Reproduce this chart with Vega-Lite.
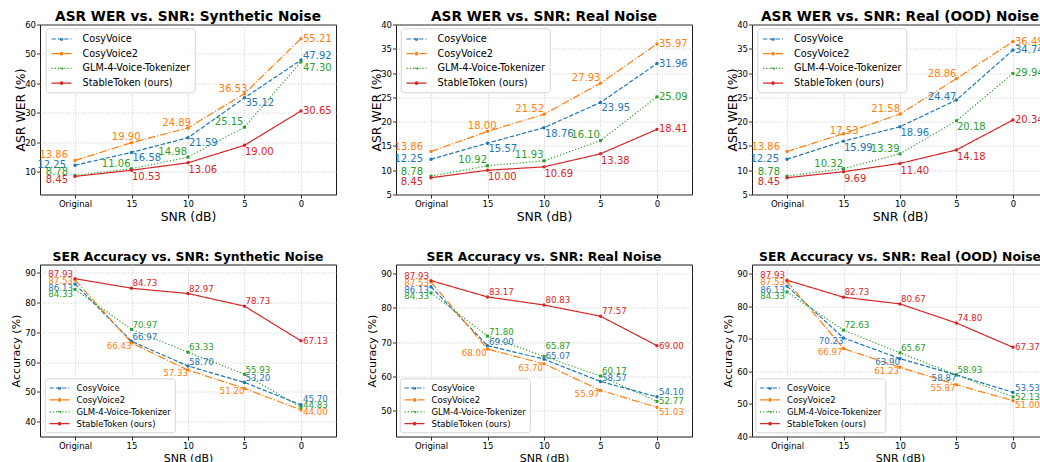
{
  "$schema": "https://vega.github.io/schema/vega-lite/v6.json",
  "background": "white",
  "padding": {"left": 10, "top": 9.5, "right": -2, "bottom": 0},
  "config": {
    "font": "DejaVu Sans",
    "view": {"stroke": "#1a1a1a", "strokeWidth": 1},
    "axis": {"domain": false, "grid": true, "gridColor": "#c4c4c4", "gridDash": [1, 1.5], "gridWidth": 0.8, "tickColor": "#000", "tickSize": 3.5, "tickWidth": 0.8, "labelColor": "#000", "labelFont": "DejaVu Sans", "labelFontSize": 8.5, "titleColor": "#000", "titleFont": "DejaVu Sans", "titleFontWeight": "normal"},
    "axisX": {"labelAngle": 0, "labelPadding": 1.5, "titlePadding": 2},
    "axisY": {"labelPadding": 1},
    "legend": {"fillColor": "rgba(255,255,255,0.85)", "strokeColor": "#cccccc", "strokeWidth": 0.8, "cornerRadius": 3, "labelColor": "#000", "labelFont": "DejaVu Sans", "symbolType": "M-1,0H3M1.25,0A0.25,0.25,0,1,1,0.75,0A0.25,0.25,0,1,1,1.25,0", "symbolStrokeWidth": 1.2, "symbolSize": 100, "labelLimit": 300},
    "title": {"font": "DejaVu Sans", "fontWeight": "bold", "color": "#000", "anchor": "middle", "baseline": "alphabetic"}
  },
  "datasets": {
    "d": [
      {"p":1,"s":"CosyVoice","x":"Original","v":12.25},{"p":1,"s":"CosyVoice","x":"15","v":16.58},{"p":1,"s":"CosyVoice","x":"10","v":21.59},{"p":1,"s":"CosyVoice","x":"5","v":35.12},{"p":1,"s":"CosyVoice","x":"0","v":47.92},
      {"p":1,"s":"CosyVoice2","x":"Original","v":13.86},{"p":1,"s":"CosyVoice2","x":"15","v":19.90},{"p":1,"s":"CosyVoice2","x":"10","v":24.89},{"p":1,"s":"CosyVoice2","x":"5","v":36.53},{"p":1,"s":"CosyVoice2","x":"0","v":55.21},
      {"p":1,"s":"GLM-4-Voice-Tokenizer","x":"Original","v":8.78},{"p":1,"s":"GLM-4-Voice-Tokenizer","x":"15","v":11.06},{"p":1,"s":"GLM-4-Voice-Tokenizer","x":"10","v":14.98},{"p":1,"s":"GLM-4-Voice-Tokenizer","x":"5","v":25.15},{"p":1,"s":"GLM-4-Voice-Tokenizer","x":"0","v":47.30},
      {"p":1,"s":"StableToken (ours)","x":"Original","v":8.45},{"p":1,"s":"StableToken (ours)","x":"15","v":10.53},{"p":1,"s":"StableToken (ours)","x":"10","v":13.06},{"p":1,"s":"StableToken (ours)","x":"5","v":19.00},{"p":1,"s":"StableToken (ours)","x":"0","v":30.65},
      {"p":2,"s":"CosyVoice","x":"Original","v":12.25},{"p":2,"s":"CosyVoice","x":"15","v":15.57},{"p":2,"s":"CosyVoice","x":"10","v":18.76},{"p":2,"s":"CosyVoice","x":"5","v":23.95},{"p":2,"s":"CosyVoice","x":"0","v":31.96},
      {"p":2,"s":"CosyVoice2","x":"Original","v":13.86},{"p":2,"s":"CosyVoice2","x":"15","v":18.00},{"p":2,"s":"CosyVoice2","x":"10","v":21.52},{"p":2,"s":"CosyVoice2","x":"5","v":27.93},{"p":2,"s":"CosyVoice2","x":"0","v":35.97},
      {"p":2,"s":"GLM-4-Voice-Tokenizer","x":"Original","v":8.78},{"p":2,"s":"GLM-4-Voice-Tokenizer","x":"15","v":10.92},{"p":2,"s":"GLM-4-Voice-Tokenizer","x":"10","v":11.93},{"p":2,"s":"GLM-4-Voice-Tokenizer","x":"5","v":16.10},{"p":2,"s":"GLM-4-Voice-Tokenizer","x":"0","v":25.09},
      {"p":2,"s":"StableToken (ours)","x":"Original","v":8.45},{"p":2,"s":"StableToken (ours)","x":"15","v":10.00},{"p":2,"s":"StableToken (ours)","x":"10","v":10.69},{"p":2,"s":"StableToken (ours)","x":"5","v":13.38},{"p":2,"s":"StableToken (ours)","x":"0","v":18.41},
      {"p":3,"s":"CosyVoice","x":"Original","v":12.25},{"p":3,"s":"CosyVoice","x":"15","v":15.99},{"p":3,"s":"CosyVoice","x":"10","v":18.96},{"p":3,"s":"CosyVoice","x":"5","v":24.47},{"p":3,"s":"CosyVoice","x":"0","v":34.74},
      {"p":3,"s":"CosyVoice2","x":"Original","v":13.86},{"p":3,"s":"CosyVoice2","x":"15","v":17.53},{"p":3,"s":"CosyVoice2","x":"10","v":21.58},{"p":3,"s":"CosyVoice2","x":"5","v":28.86},{"p":3,"s":"CosyVoice2","x":"0","v":36.49},
      {"p":3,"s":"GLM-4-Voice-Tokenizer","x":"Original","v":8.78},{"p":3,"s":"GLM-4-Voice-Tokenizer","x":"15","v":10.32},{"p":3,"s":"GLM-4-Voice-Tokenizer","x":"10","v":13.39},{"p":3,"s":"GLM-4-Voice-Tokenizer","x":"5","v":20.18},{"p":3,"s":"GLM-4-Voice-Tokenizer","x":"0","v":29.94},
      {"p":3,"s":"StableToken (ours)","x":"Original","v":8.45},{"p":3,"s":"StableToken (ours)","x":"15","v":9.69},{"p":3,"s":"StableToken (ours)","x":"10","v":11.40},{"p":3,"s":"StableToken (ours)","x":"5","v":14.18},{"p":3,"s":"StableToken (ours)","x":"0","v":20.34},
      {"p":4,"s":"CosyVoice","x":"Original","v":86.13},{"p":4,"s":"CosyVoice","x":"15","v":66.97},{"p":4,"s":"CosyVoice","x":"10","v":58.70},{"p":4,"s":"CosyVoice","x":"5","v":53.20},{"p":4,"s":"CosyVoice","x":"0","v":45.70},
      {"p":4,"s":"CosyVoice2","x":"Original","v":87.53},{"p":4,"s":"CosyVoice2","x":"15","v":66.43},{"p":4,"s":"CosyVoice2","x":"10","v":57.33},{"p":4,"s":"CosyVoice2","x":"5","v":51.20},{"p":4,"s":"CosyVoice2","x":"0","v":44.00},
      {"p":4,"s":"GLM-4-Voice-Tokenizer","x":"Original","v":84.33},{"p":4,"s":"GLM-4-Voice-Tokenizer","x":"15","v":70.97},{"p":4,"s":"GLM-4-Voice-Tokenizer","x":"10","v":63.33},{"p":4,"s":"GLM-4-Voice-Tokenizer","x":"5","v":55.93},{"p":4,"s":"GLM-4-Voice-Tokenizer","x":"0","v":44.83},
      {"p":4,"s":"StableToken (ours)","x":"Original","v":87.93},{"p":4,"s":"StableToken (ours)","x":"15","v":84.73},{"p":4,"s":"StableToken (ours)","x":"10","v":82.97},{"p":4,"s":"StableToken (ours)","x":"5","v":78.73},{"p":4,"s":"StableToken (ours)","x":"0","v":67.13},
      {"p":5,"s":"CosyVoice","x":"Original","v":86.13},{"p":5,"s":"CosyVoice","x":"15","v":69.00},{"p":5,"s":"CosyVoice","x":"10","v":65.07},{"p":5,"s":"CosyVoice","x":"5","v":58.57},{"p":5,"s":"CosyVoice","x":"0","v":54.10},
      {"p":5,"s":"CosyVoice2","x":"Original","v":87.53},{"p":5,"s":"CosyVoice2","x":"15","v":68.00},{"p":5,"s":"CosyVoice2","x":"10","v":63.70},{"p":5,"s":"CosyVoice2","x":"5","v":55.97},{"p":5,"s":"CosyVoice2","x":"0","v":51.03},
      {"p":5,"s":"GLM-4-Voice-Tokenizer","x":"Original","v":84.33},{"p":5,"s":"GLM-4-Voice-Tokenizer","x":"15","v":71.80},{"p":5,"s":"GLM-4-Voice-Tokenizer","x":"10","v":65.87},{"p":5,"s":"GLM-4-Voice-Tokenizer","x":"5","v":60.17},{"p":5,"s":"GLM-4-Voice-Tokenizer","x":"0","v":52.77},
      {"p":5,"s":"StableToken (ours)","x":"Original","v":87.93},{"p":5,"s":"StableToken (ours)","x":"15","v":83.17},{"p":5,"s":"StableToken (ours)","x":"10","v":80.83},{"p":5,"s":"StableToken (ours)","x":"5","v":77.57},{"p":5,"s":"StableToken (ours)","x":"0","v":69.00},
      {"p":6,"s":"CosyVoice","x":"Original","v":86.13},{"p":6,"s":"CosyVoice","x":"15","v":70.23},{"p":6,"s":"CosyVoice","x":"10","v":63.90},{"p":6,"s":"CosyVoice","x":"5","v":58.87},{"p":6,"s":"CosyVoice","x":"0","v":53.53},
      {"p":6,"s":"CosyVoice2","x":"Original","v":87.53},{"p":6,"s":"CosyVoice2","x":"15","v":66.97},{"p":6,"s":"CosyVoice2","x":"10","v":61.23},{"p":6,"s":"CosyVoice2","x":"5","v":55.87},{"p":6,"s":"CosyVoice2","x":"0","v":51.00},
      {"p":6,"s":"GLM-4-Voice-Tokenizer","x":"Original","v":84.33},{"p":6,"s":"GLM-4-Voice-Tokenizer","x":"15","v":72.63},{"p":6,"s":"GLM-4-Voice-Tokenizer","x":"10","v":65.67},{"p":6,"s":"GLM-4-Voice-Tokenizer","x":"5","v":58.93},{"p":6,"s":"GLM-4-Voice-Tokenizer","x":"0","v":52.13},
      {"p":6,"s":"StableToken (ours)","x":"Original","v":87.93},{"p":6,"s":"StableToken (ours)","x":"15","v":82.73},{"p":6,"s":"StableToken (ours)","x":"10","v":80.67},{"p":6,"s":"StableToken (ours)","x":"5","v":74.80},{"p":6,"s":"StableToken (ours)","x":"0","v":67.37}
    ]
  },
  "columns": 3,
  "spacing": {"row": 70, "column": 60},
  "bounds": "flush",
  "resolve": {"scale": {"x": "independent", "y": "independent", "color": "independent", "strokeDash": "independent"}},
  "concat": [
    {
      "width": 296, "height": 170,
      "title": {"text": "ASR WER vs. SNR: Synthetic Noise", "fontSize": 13.7, "offset": -3.5},
      "data": {"name": "d"},
      "transform": [{"filter": "datum.p == 1"}],
      "encoding": {
        "x": {"field": "x", "type": "ordinal", "sort": ["Original","15","10","5","0"], "scale": {"type": "point", "padding": 0.62}, "axis": {"title": "SNR (dB)", "titleFontSize": 12.4}},
        "y": {"field": "v", "type": "quantitative", "scale": {"domain": [2.3, 60], "nice": false, "zero": false}, "axis": {"title": "ASR WER (%)", "values": [10,20,30,40,50,60], "titleFontSize": 12.4, "titlePadding": -2.5}}
      },
      "layer": [
        {"mark": {"type": "line", "strokeWidth": 1.2}, "encoding": {
          "color": {"field": "s", "type": "nominal", "title": null, "scale": {"domain": ["CosyVoice","CosyVoice2","GLM-4-Voice-Tokenizer","StableToken (ours)"], "range": ["#1f77b4","#ff7f0e","#2ca02c","#d62728"]}, "legend": {"orient": "none", "legendX": 6, "legendY": 4, "labelFontSize": 9.7, "rowPadding": 3.7, "padding": 4.5, "labelOffset": 20}},
          "strokeDash": {"field": "s", "type": "nominal", "title": null, "scale": {"domain": ["CosyVoice","CosyVoice2","GLM-4-Voice-Tokenizer","StableToken (ours)"], "range": [[4.4,1.9],[7.7,1.9,1.2,1.9],[1.2,2],[1,0]]}, "legend": {"orient": "none", "legendX": 6, "legendY": 4, "labelFontSize": 9.7, "rowPadding": 3.7, "padding": 4.5, "labelOffset": 20}}}},
        {"transform": [{"filter": "datum.s=='CosyVoice'"}], "mark": {"type": "point", "filled": true, "size": 12, "opacity": 1, "color": "#1f77b4"}},
        {"transform": [{"filter": "datum.s=='CosyVoice2'"}], "mark": {"type": "point", "filled": true, "size": 12, "opacity": 1, "color": "#ff7f0e"}},
        {"transform": [{"filter": "datum.s=='GLM-4-Voice-Tokenizer'"}], "mark": {"type": "point", "filled": true, "size": 9, "opacity": 1, "shape": "square", "color": "#2ca02c"}},
        {"transform": [{"filter": "datum.s=='StableToken (ours)'"}], "mark": {"type": "point", "filled": true, "size": 12, "opacity": 1, "color": "#d62728"}},
        {"transform": [{"filter": "datum.s=='CosyVoice'&&datum.x=='Original'"}], "mark": {"type": "text", "align": "right", "baseline": "middle", "dx": -9, "dy": 0, "fontSize": 10, "color": "#1f77b4"}, "encoding": {"text": {"field": "v", "type": "quantitative", "format": ".2f"}}},
        {"transform": [{"filter": "datum.s=='CosyVoice'&&indexof(['15','10','5'],datum.x)>=0"}], "mark": {"type": "text", "align": "left", "baseline": "middle", "dx": 1, "dy": 5.5, "fontSize": 10, "color": "#1f77b4"}, "encoding": {"text": {"field": "v", "type": "quantitative", "format": ".2f"}}},
        {"transform": [{"filter": "datum.s=='CosyVoice'&&datum.x=='0'"}], "mark": {"type": "text", "align": "left", "baseline": "middle", "dx": 2, "dy": -4, "fontSize": 10, "color": "#1f77b4"}, "encoding": {"text": {"field": "v", "type": "quantitative", "format": ".2f"}}},
        {"transform": [{"filter": "datum.s=='CosyVoice2'&&datum.x=='Original'"}], "mark": {"type": "text", "align": "right", "baseline": "middle", "dx": -7, "dy": -5, "fontSize": 10, "color": "#ff7f0e"}, "encoding": {"text": {"field": "v", "type": "quantitative", "format": ".2f"}}},
        {"transform": [{"filter": "datum.s=='CosyVoice2'&&datum.x=='15'"}], "mark": {"type": "text", "align": "right", "baseline": "middle", "dx": 9, "dy": -6, "fontSize": 10, "color": "#ff7f0e"}, "encoding": {"text": {"field": "v", "type": "quantitative", "format": ".2f"}}},
        {"transform": [{"filter": "datum.s=='CosyVoice2'&&indexof(['10','5'],datum.x)>=0"}], "mark": {"type": "text", "align": "right", "baseline": "middle", "dx": 3, "dy": -5, "fontSize": 10, "color": "#ff7f0e"}, "encoding": {"text": {"field": "v", "type": "quantitative", "format": ".2f"}}},
        {"transform": [{"filter": "datum.s=='CosyVoice2'&&datum.x=='0'"}], "mark": {"type": "text", "align": "left", "baseline": "middle", "dx": 2, "dy": 0, "fontSize": 10, "color": "#ff7f0e"}, "encoding": {"text": {"field": "v", "type": "quantitative", "format": ".2f"}}},
        {"transform": [{"filter": "datum.s=='GLM-4-Voice-Tokenizer'&&datum.x=='Original'"}], "mark": {"type": "text", "align": "right", "baseline": "middle", "dx": -7, "dy": -3.5, "fontSize": 10, "color": "#2ca02c"}, "encoding": {"text": {"field": "v", "type": "quantitative", "format": ".2f"}}},
        {"transform": [{"filter": "datum.s=='GLM-4-Voice-Tokenizer'&&indexof(['15','10','5'],datum.x)>=0"}], "mark": {"type": "text", "align": "right", "baseline": "middle", "dx": -1, "dy": -5, "fontSize": 10, "color": "#2ca02c"}, "encoding": {"text": {"field": "v", "type": "quantitative", "format": ".2f"}}},
        {"transform": [{"filter": "datum.s=='GLM-4-Voice-Tokenizer'&&datum.x=='0'"}], "mark": {"type": "text", "align": "left", "baseline": "middle", "dx": 2, "dy": 6, "fontSize": 10, "color": "#2ca02c"}, "encoding": {"text": {"field": "v", "type": "quantitative", "format": ".2f"}}},
        {"transform": [{"filter": "datum.s=='StableToken (ours)'&&datum.x=='Original'"}], "mark": {"type": "text", "align": "right", "baseline": "middle", "dx": -7, "dy": 3.5, "fontSize": 10, "color": "#d62728"}, "encoding": {"text": {"field": "v", "type": "quantitative", "format": ".2f"}}},
        {"transform": [{"filter": "datum.s=='StableToken (ours)'&&indexof(['15','10','5'],datum.x)>=0"}], "mark": {"type": "text", "align": "left", "baseline": "middle", "dx": 0.5, "dy": 7, "fontSize": 10, "color": "#d62728"}, "encoding": {"text": {"field": "v", "type": "quantitative", "format": ".2f"}}},
        {"transform": [{"filter": "datum.s=='StableToken (ours)'&&datum.x=='0'"}], "mark": {"type": "text", "align": "left", "baseline": "middle", "dx": 2, "dy": 0, "fontSize": 10, "color": "#d62728"}, "encoding": {"text": {"field": "v", "type": "quantitative", "format": ".2f"}}}
      ]
    },
    {
      "width": 296, "height": 170,
      "title": {"text": "ASR WER vs. SNR: Real Noise", "fontSize": 13.7, "offset": -3.5},
      "data": {"name": "d"},
      "transform": [{"filter": "datum.p == 2"}],
      "encoding": {
        "x": {"field": "x", "type": "ordinal", "sort": ["Original","15","10","5","0"], "scale": {"type": "point", "padding": 0.62}, "axis": {"title": "SNR (dB)", "titleFontSize": 12.4}},
        "y": {"field": "v", "type": "quantitative", "scale": {"domain": [5, 40], "nice": false, "zero": false}, "axis": {"title": "ASR WER (%)", "values": [5,10,15,20,25,30,35,40], "titleFontSize": 12.4, "titlePadding": -2.5}}
      },
      "layer": [
        {"mark": {"type": "line", "strokeWidth": 1.2}, "encoding": {
          "color": {"field": "s", "type": "nominal", "title": null, "scale": {"domain": ["CosyVoice","CosyVoice2","GLM-4-Voice-Tokenizer","StableToken (ours)"], "range": ["#1f77b4","#ff7f0e","#2ca02c","#d62728"]}, "legend": {"orient": "none", "legendX": 5, "legendY": 4, "labelFontSize": 9.7, "rowPadding": 3.7, "padding": 4.5, "labelOffset": 20}},
          "strokeDash": {"field": "s", "type": "nominal", "title": null, "scale": {"domain": ["CosyVoice","CosyVoice2","GLM-4-Voice-Tokenizer","StableToken (ours)"], "range": [[4.4,1.9],[7.7,1.9,1.2,1.9],[1.2,2],[1,0]]}, "legend": {"orient": "none", "legendX": 5, "legendY": 4, "labelFontSize": 9.7, "rowPadding": 3.7, "padding": 4.5, "labelOffset": 20}}}},
        {"transform": [{"filter": "datum.s=='CosyVoice'"}], "mark": {"type": "point", "filled": true, "size": 12, "opacity": 1, "color": "#1f77b4"}},
        {"transform": [{"filter": "datum.s=='CosyVoice2'"}], "mark": {"type": "point", "filled": true, "size": 12, "opacity": 1, "color": "#ff7f0e"}},
        {"transform": [{"filter": "datum.s=='GLM-4-Voice-Tokenizer'"}], "mark": {"type": "point", "filled": true, "size": 9, "opacity": 1, "shape": "square", "color": "#2ca02c"}},
        {"transform": [{"filter": "datum.s=='StableToken (ours)'"}], "mark": {"type": "point", "filled": true, "size": 12, "opacity": 1, "color": "#d62728"}},
        {"transform": [{"filter": "datum.s=='CosyVoice'&&datum.x=='Original'"}], "mark": {"type": "text", "align": "right", "baseline": "middle", "dx": -8, "dy": 0, "fontSize": 10, "color": "#1f77b4"}, "encoding": {"text": {"field": "v", "type": "quantitative", "format": ".2f"}}},
        {"transform": [{"filter": "datum.s=='CosyVoice'&&indexof(['15','10','5'],datum.x)>=0"}], "mark": {"type": "text", "align": "left", "baseline": "middle", "dx": 1, "dy": 6, "fontSize": 10, "color": "#1f77b4"}, "encoding": {"text": {"field": "v", "type": "quantitative", "format": ".2f"}}},
        {"transform": [{"filter": "datum.s=='CosyVoice'&&datum.x=='0'"}], "mark": {"type": "text", "align": "left", "baseline": "middle", "dx": 2, "dy": 0, "fontSize": 10, "color": "#1f77b4"}, "encoding": {"text": {"field": "v", "type": "quantitative", "format": ".2f"}}},
        {"transform": [{"filter": "datum.s=='CosyVoice2'&&datum.x=='Original'"}], "mark": {"type": "text", "align": "right", "baseline": "middle", "dx": -8, "dy": -4.5, "fontSize": 10, "color": "#ff7f0e"}, "encoding": {"text": {"field": "v", "type": "quantitative", "format": ".2f"}}},
        {"transform": [{"filter": "datum.s=='CosyVoice2'&&datum.x=='15'"}], "mark": {"type": "text", "align": "right", "baseline": "middle", "dx": 9, "dy": -5, "fontSize": 10, "color": "#ff7f0e"}, "encoding": {"text": {"field": "v", "type": "quantitative", "format": ".2f"}}},
        {"transform": [{"filter": "datum.s=='CosyVoice2'&&indexof(['10','5'],datum.x)>=0"}], "mark": {"type": "text", "align": "right", "baseline": "middle", "dx": 0, "dy": -5, "fontSize": 10, "color": "#ff7f0e"}, "encoding": {"text": {"field": "v", "type": "quantitative", "format": ".2f"}}},
        {"transform": [{"filter": "datum.s=='CosyVoice2'&&datum.x=='0'"}], "mark": {"type": "text", "align": "left", "baseline": "middle", "dx": 2, "dy": 0, "fontSize": 10, "color": "#ff7f0e"}, "encoding": {"text": {"field": "v", "type": "quantitative", "format": ".2f"}}},
        {"transform": [{"filter": "datum.s=='GLM-4-Voice-Tokenizer'&&datum.x=='Original'"}], "mark": {"type": "text", "align": "right", "baseline": "middle", "dx": -8, "dy": -4, "fontSize": 10, "color": "#2ca02c"}, "encoding": {"text": {"field": "v", "type": "quantitative", "format": ".2f"}}},
        {"transform": [{"filter": "datum.s=='GLM-4-Voice-Tokenizer'&&indexof(['15','10','5'],datum.x)>=0"}], "mark": {"type": "text", "align": "right", "baseline": "middle", "dx": -0.5, "dy": -5.5, "fontSize": 10, "color": "#2ca02c"}, "encoding": {"text": {"field": "v", "type": "quantitative", "format": ".2f"}}},
        {"transform": [{"filter": "datum.s=='GLM-4-Voice-Tokenizer'&&datum.x=='0'"}], "mark": {"type": "text", "align": "left", "baseline": "middle", "dx": 2, "dy": 0, "fontSize": 10, "color": "#2ca02c"}, "encoding": {"text": {"field": "v", "type": "quantitative", "format": ".2f"}}},
        {"transform": [{"filter": "datum.s=='StableToken (ours)'&&datum.x=='Original'"}], "mark": {"type": "text", "align": "right", "baseline": "middle", "dx": -8, "dy": 4.4, "fontSize": 10, "color": "#d62728"}, "encoding": {"text": {"field": "v", "type": "quantitative", "format": ".2f"}}},
        {"transform": [{"filter": "datum.s=='StableToken (ours)'&&indexof(['15','10','5'],datum.x)>=0"}], "mark": {"type": "text", "align": "left", "baseline": "middle", "dx": 0.5, "dy": 7, "fontSize": 10, "color": "#d62728"}, "encoding": {"text": {"field": "v", "type": "quantitative", "format": ".2f"}}},
        {"transform": [{"filter": "datum.s=='StableToken (ours)'&&datum.x=='0'"}], "mark": {"type": "text", "align": "left", "baseline": "middle", "dx": 2, "dy": 0, "fontSize": 10, "color": "#d62728"}, "encoding": {"text": {"field": "v", "type": "quantitative", "format": ".2f"}}}
      ]
    },
    {
      "width": 296, "height": 170,
      "title": {"text": "ASR WER vs. SNR: Real (OOD) Noise", "fontSize": 13.7, "offset": -3.5},
      "data": {"name": "d"},
      "transform": [{"filter": "datum.p == 3"}],
      "encoding": {
        "x": {"field": "x", "type": "ordinal", "sort": ["Original","15","10","5","0"], "scale": {"type": "point", "padding": 0.62}, "axis": {"title": "SNR (dB)", "titleFontSize": 12.4}},
        "y": {"field": "v", "type": "quantitative", "scale": {"domain": [5, 40], "nice": false, "zero": false}, "axis": {"title": "ASR WER (%)", "values": [5,10,15,20,25,30,35,40], "titleFontSize": 12.4, "titlePadding": -2.5}}
      },
      "layer": [
        {"mark": {"type": "line", "strokeWidth": 1.2}, "encoding": {
          "color": {"field": "s", "type": "nominal", "title": null, "scale": {"domain": ["CosyVoice","CosyVoice2","GLM-4-Voice-Tokenizer","StableToken (ours)"], "range": ["#1f77b4","#ff7f0e","#2ca02c","#d62728"]}, "legend": {"orient": "none", "legendX": 5.5, "legendY": 4, "labelFontSize": 9.7, "rowPadding": 3.7, "padding": 4.5, "labelOffset": 20}},
          "strokeDash": {"field": "s", "type": "nominal", "title": null, "scale": {"domain": ["CosyVoice","CosyVoice2","GLM-4-Voice-Tokenizer","StableToken (ours)"], "range": [[4.4,1.9],[7.7,1.9,1.2,1.9],[1.2,2],[1,0]]}, "legend": {"orient": "none", "legendX": 5.5, "legendY": 4, "labelFontSize": 9.7, "rowPadding": 3.7, "padding": 4.5, "labelOffset": 20}}}},
        {"transform": [{"filter": "datum.s=='CosyVoice'"}], "mark": {"type": "point", "filled": true, "size": 12, "opacity": 1, "color": "#1f77b4"}},
        {"transform": [{"filter": "datum.s=='CosyVoice2'"}], "mark": {"type": "point", "filled": true, "size": 12, "opacity": 1, "color": "#ff7f0e"}},
        {"transform": [{"filter": "datum.s=='GLM-4-Voice-Tokenizer'"}], "mark": {"type": "point", "filled": true, "size": 9, "opacity": 1, "shape": "square", "color": "#2ca02c"}},
        {"transform": [{"filter": "datum.s=='StableToken (ours)'"}], "mark": {"type": "point", "filled": true, "size": 12, "opacity": 1, "color": "#d62728"}},
        {"transform": [{"filter": "datum.s=='CosyVoice'&&datum.x=='Original'"}], "mark": {"type": "text", "align": "right", "baseline": "middle", "dx": -8, "dy": 0, "fontSize": 10, "color": "#1f77b4"}, "encoding": {"text": {"field": "v", "type": "quantitative", "format": ".2f"}}},
        {"transform": [{"filter": "datum.s=='CosyVoice'&&indexof(['15','10'],datum.x)>=0"}], "mark": {"type": "text", "align": "left", "baseline": "middle", "dx": 0.5, "dy": 6.5, "fontSize": 10, "color": "#1f77b4"}, "encoding": {"text": {"field": "v", "type": "quantitative", "format": ".2f"}}},
        {"transform": [{"filter": "datum.s=='CosyVoice'&&datum.x=='5'"}], "mark": {"type": "text", "align": "right", "baseline": "middle", "dx": 0, "dy": -3, "fontSize": 10, "color": "#1f77b4"}, "encoding": {"text": {"field": "v", "type": "quantitative", "format": ".2f"}}},
        {"transform": [{"filter": "datum.s=='CosyVoice'&&datum.x=='0'"}], "mark": {"type": "text", "align": "left", "baseline": "middle", "dx": 2, "dy": 0, "fontSize": 10, "color": "#1f77b4"}, "encoding": {"text": {"field": "v", "type": "quantitative", "format": ".2f"}}},
        {"transform": [{"filter": "datum.s=='CosyVoice2'&&datum.x=='Original'"}], "mark": {"type": "text", "align": "right", "baseline": "middle", "dx": -7, "dy": -4.5, "fontSize": 10, "color": "#ff7f0e"}, "encoding": {"text": {"field": "v", "type": "quantitative", "format": ".2f"}}},
        {"transform": [{"filter": "datum.s=='CosyVoice2'&&datum.x=='15'"}], "mark": {"type": "text", "align": "right", "baseline": "middle", "dx": 15, "dy": -3, "fontSize": 10, "color": "#ff7f0e"}, "encoding": {"text": {"field": "v", "type": "quantitative", "format": ".2f"}}},
        {"transform": [{"filter": "datum.s=='CosyVoice2'&&indexof(['10','5'],datum.x)>=0"}], "mark": {"type": "text", "align": "right", "baseline": "middle", "dx": 0, "dy": -5, "fontSize": 10, "color": "#ff7f0e"}, "encoding": {"text": {"field": "v", "type": "quantitative", "format": ".2f"}}},
        {"transform": [{"filter": "datum.s=='CosyVoice2'&&datum.x=='0'"}], "mark": {"type": "text", "align": "left", "baseline": "middle", "dx": 2, "dy": 0, "fontSize": 10, "color": "#ff7f0e"}, "encoding": {"text": {"field": "v", "type": "quantitative", "format": ".2f"}}},
        {"transform": [{"filter": "datum.s=='GLM-4-Voice-Tokenizer'&&datum.x=='Original'"}], "mark": {"type": "text", "align": "right", "baseline": "middle", "dx": -7, "dy": -4, "fontSize": 10, "color": "#2ca02c"}, "encoding": {"text": {"field": "v", "type": "quantitative", "format": ".2f"}}},
        {"transform": [{"filter": "datum.s=='GLM-4-Voice-Tokenizer'&&indexof(['15','10'],datum.x)>=0"}], "mark": {"type": "text", "align": "right", "baseline": "middle", "dx": -0.5, "dy": -5, "fontSize": 10, "color": "#2ca02c"}, "encoding": {"text": {"field": "v", "type": "quantitative", "format": ".2f"}}},
        {"transform": [{"filter": "datum.s=='GLM-4-Voice-Tokenizer'&&datum.x=='5'"}], "mark": {"type": "text", "align": "left", "baseline": "middle", "dx": 0.5, "dy": 6, "fontSize": 10, "color": "#2ca02c"}, "encoding": {"text": {"field": "v", "type": "quantitative", "format": ".2f"}}},
        {"transform": [{"filter": "datum.s=='GLM-4-Voice-Tokenizer'&&datum.x=='0'"}], "mark": {"type": "text", "align": "left", "baseline": "middle", "dx": 2, "dy": 0, "fontSize": 10, "color": "#2ca02c"}, "encoding": {"text": {"field": "v", "type": "quantitative", "format": ".2f"}}},
        {"transform": [{"filter": "datum.s=='StableToken (ours)'&&datum.x=='Original'"}], "mark": {"type": "text", "align": "right", "baseline": "middle", "dx": -7, "dy": 4.4, "fontSize": 10, "color": "#d62728"}, "encoding": {"text": {"field": "v", "type": "quantitative", "format": ".2f"}}},
        {"transform": [{"filter": "datum.s=='StableToken (ours)'&&indexof(['15','10','5'],datum.x)>=0"}], "mark": {"type": "text", "align": "left", "baseline": "middle", "dx": 0.5, "dy": 7.2, "fontSize": 10, "color": "#d62728"}, "encoding": {"text": {"field": "v", "type": "quantitative", "format": ".2f"}}},
        {"transform": [{"filter": "datum.s=='StableToken (ours)'&&datum.x=='0'"}], "mark": {"type": "text", "align": "left", "baseline": "middle", "dx": 2, "dy": 0, "fontSize": 10, "color": "#d62728"}, "encoding": {"text": {"field": "v", "type": "quantitative", "format": ".2f"}}}
      ]
    },
    {
      "width": 296, "height": 172,
      "title": {"text": "SER Accuracy vs. SNR: Synthetic Noise", "fontSize": 12.4, "offset": 1.5},
      "data": {"name": "d"},
      "transform": [{"filter": "datum.p == 4"}],
      "encoding": {
        "x": {"field": "x", "type": "ordinal", "sort": ["Original","15","10","5","0"], "scale": {"type": "point", "padding": 0.62}, "axis": {"title": "SNR (dB)", "titleFontSize": 11}},
        "y": {"field": "v", "type": "quantitative", "scale": {"domain": [35.1, 92.68], "nice": false, "zero": false}, "axis": {"title": "Accuracy (%)", "values": [40,50,60,70,80,90], "titleFontSize": 11, "titlePadding": 3}}
      },
      "layer": [
        {"mark": {"type": "line", "strokeWidth": 1.2}, "encoding": {
          "color": {"field": "s", "type": "nominal", "title": null, "scale": {"domain": ["CosyVoice","CosyVoice2","GLM-4-Voice-Tokenizer","StableToken (ours)"], "range": ["#1f77b4","#ff7f0e","#2ca02c","#d62728"]}, "legend": {"orient": "none", "legendX": 5, "legendY": 114, "labelFontSize": 8.5, "rowPadding": 0.9, "padding": 3.5, "labelOffset": 16}},
          "strokeDash": {"field": "s", "type": "nominal", "title": null, "scale": {"domain": ["CosyVoice","CosyVoice2","GLM-4-Voice-Tokenizer","StableToken (ours)"], "range": [[4.4,1.9],[7.7,1.9,1.2,1.9],[1.2,2],[1,0]]}, "legend": {"orient": "none", "legendX": 5, "legendY": 114, "labelFontSize": 8.5, "rowPadding": 0.9, "padding": 3.5, "labelOffset": 16}}}},
        {"transform": [{"filter": "datum.s=='CosyVoice'"}], "mark": {"type": "point", "filled": true, "size": 12, "opacity": 1, "color": "#1f77b4"}},
        {"transform": [{"filter": "datum.s=='CosyVoice2'"}], "mark": {"type": "point", "filled": true, "size": 12, "opacity": 1, "color": "#ff7f0e"}},
        {"transform": [{"filter": "datum.s=='GLM-4-Voice-Tokenizer'"}], "mark": {"type": "point", "filled": true, "size": 9, "opacity": 1, "shape": "square", "color": "#2ca02c"}},
        {"transform": [{"filter": "datum.s=='StableToken (ours)'"}], "mark": {"type": "point", "filled": true, "size": 12, "opacity": 1, "color": "#d62728"}},
        {"transform": [{"filter": "datum.s=='CosyVoice'&&datum.x=='Original'"}], "mark": {"type": "text", "align": "right", "baseline": "middle", "dx": -2, "dy": 3.5, "fontSize": 8.7, "color": "#1f77b4"}, "encoding": {"text": {"field": "v", "type": "quantitative", "format": ".2f"}}},
        {"transform": [{"filter": "datum.s=='CosyVoice'&&indexof(['15','10','5'],datum.x)>=0"}], "mark": {"type": "text", "align": "left", "baseline": "middle", "dx": 1, "dy": -4, "fontSize": 8.7, "color": "#1f77b4"}, "encoding": {"text": {"field": "v", "type": "quantitative", "format": ".2f"}}},
        {"transform": [{"filter": "datum.s=='CosyVoice'&&datum.x=='0'"}], "mark": {"type": "text", "align": "left", "baseline": "middle", "dx": 2, "dy": -5.5, "fontSize": 8.7, "color": "#1f77b4"}, "encoding": {"text": {"field": "v", "type": "quantitative", "format": ".2f"}}},
        {"transform": [{"filter": "datum.s=='CosyVoice2'&&datum.x=='Original'"}], "mark": {"type": "text", "align": "right", "baseline": "middle", "dx": -2, "dy": 1, "fontSize": 8.7, "color": "#ff7f0e"}, "encoding": {"text": {"field": "v", "type": "quantitative", "format": ".2f"}}},
        {"transform": [{"filter": "datum.s=='CosyVoice2'&&indexof(['15','10','5'],datum.x)>=0"}], "mark": {"type": "text", "align": "right", "baseline": "middle", "dx": 0, "dy": 2.7, "fontSize": 8.7, "color": "#ff7f0e"}, "encoding": {"text": {"field": "v", "type": "quantitative", "format": ".2f"}}},
        {"transform": [{"filter": "datum.s=='CosyVoice2'&&datum.x=='0'"}], "mark": {"type": "text", "align": "left", "baseline": "middle", "dx": 2, "dy": 2, "fontSize": 8.7, "color": "#ff7f0e"}, "encoding": {"text": {"field": "v", "type": "quantitative", "format": ".2f"}}},
        {"transform": [{"filter": "datum.s=='GLM-4-Voice-Tokenizer'&&datum.x=='Original'"}], "mark": {"type": "text", "align": "right", "baseline": "middle", "dx": -2, "dy": 5, "fontSize": 8.7, "color": "#2ca02c"}, "encoding": {"text": {"field": "v", "type": "quantitative", "format": ".2f"}}},
        {"transform": [{"filter": "datum.s=='GLM-4-Voice-Tokenizer'&&indexof(['15','10','5'],datum.x)>=0"}], "mark": {"type": "text", "align": "left", "baseline": "middle", "dx": 1, "dy": -4.7, "fontSize": 8.7, "color": "#2ca02c"}, "encoding": {"text": {"field": "v", "type": "quantitative", "format": ".2f"}}},
        {"transform": [{"filter": "datum.s=='GLM-4-Voice-Tokenizer'&&datum.x=='0'"}], "mark": {"type": "text", "align": "left", "baseline": "middle", "dx": 2, "dy": -2, "fontSize": 8.7, "color": "#2ca02c"}, "encoding": {"text": {"field": "v", "type": "quantitative", "format": ".2f"}}},
        {"transform": [{"filter": "datum.s=='StableToken (ours)'&&datum.x=='Original'"}], "mark": {"type": "text", "align": "right", "baseline": "middle", "dx": -2, "dy": -5, "fontSize": 8.7, "color": "#d62728"}, "encoding": {"text": {"field": "v", "type": "quantitative", "format": ".2f"}}},
        {"transform": [{"filter": "datum.s=='StableToken (ours)'&&indexof(['15','10','5'],datum.x)>=0"}], "mark": {"type": "text", "align": "left", "baseline": "middle", "dx": 1, "dy": -5, "fontSize": 8.7, "color": "#d62728"}, "encoding": {"text": {"field": "v", "type": "quantitative", "format": ".2f"}}},
        {"transform": [{"filter": "datum.s=='StableToken (ours)'&&datum.x=='0'"}], "mark": {"type": "text", "align": "left", "baseline": "middle", "dx": 2, "dy": 0, "fontSize": 8.7, "color": "#d62728"}, "encoding": {"text": {"field": "v", "type": "quantitative", "format": ".2f"}}}
      ]
    },
    {
      "width": 296, "height": 172,
      "title": {"text": "SER Accuracy vs. SNR: Real Noise", "fontSize": 12.4, "offset": 1.5},
      "data": {"name": "d"},
      "transform": [{"filter": "datum.p == 5"}],
      "encoding": {
        "x": {"field": "x", "type": "ordinal", "sort": ["Original","15","10","5","0"], "scale": {"type": "point", "padding": 0.62}, "axis": {"title": "SNR (dB)", "titleFontSize": 11}},
        "y": {"field": "v", "type": "quantitative", "scale": {"domain": [42.55, 92.62], "nice": false, "zero": false}, "axis": {"title": "Accuracy (%)", "values": [50,60,70,80,90], "titleFontSize": 11, "titlePadding": 3}}
      },
      "layer": [
        {"mark": {"type": "line", "strokeWidth": 1.2}, "encoding": {
          "color": {"field": "s", "type": "nominal", "title": null, "scale": {"domain": ["CosyVoice","CosyVoice2","GLM-4-Voice-Tokenizer","StableToken (ours)"], "range": ["#1f77b4","#ff7f0e","#2ca02c","#d62728"]}, "legend": {"orient": "none", "legendX": 4, "legendY": 114, "labelFontSize": 8.5, "rowPadding": 0.9, "padding": 3.5, "labelOffset": 16}},
          "strokeDash": {"field": "s", "type": "nominal", "title": null, "scale": {"domain": ["CosyVoice","CosyVoice2","GLM-4-Voice-Tokenizer","StableToken (ours)"], "range": [[4.4,1.9],[7.7,1.9,1.2,1.9],[1.2,2],[1,0]]}, "legend": {"orient": "none", "legendX": 4, "legendY": 114, "labelFontSize": 8.5, "rowPadding": 0.9, "padding": 3.5, "labelOffset": 16}}}},
        {"transform": [{"filter": "datum.s=='CosyVoice'"}], "mark": {"type": "point", "filled": true, "size": 12, "opacity": 1, "color": "#1f77b4"}},
        {"transform": [{"filter": "datum.s=='CosyVoice2'"}], "mark": {"type": "point", "filled": true, "size": 12, "opacity": 1, "color": "#ff7f0e"}},
        {"transform": [{"filter": "datum.s=='GLM-4-Voice-Tokenizer'"}], "mark": {"type": "point", "filled": true, "size": 9, "opacity": 1, "shape": "square", "color": "#2ca02c"}},
        {"transform": [{"filter": "datum.s=='StableToken (ours)'"}], "mark": {"type": "point", "filled": true, "size": 12, "opacity": 1, "color": "#d62728"}},
        {"transform": [{"filter": "datum.s=='CosyVoice'&&datum.x=='Original'"}], "mark": {"type": "text", "align": "right", "baseline": "middle", "dx": -2, "dy": 3.4, "fontSize": 8.7, "color": "#1f77b4"}, "encoding": {"text": {"field": "v", "type": "quantitative", "format": ".2f"}}},
        {"transform": [{"filter": "datum.s=='CosyVoice'&&indexof(['15','10','5'],datum.x)>=0"}], "mark": {"type": "text", "align": "left", "baseline": "middle", "dx": 1.5, "dy": -3.5, "fontSize": 8.7, "color": "#1f77b4"}, "encoding": {"text": {"field": "v", "type": "quantitative", "format": ".2f"}}},
        {"transform": [{"filter": "datum.s=='CosyVoice'&&datum.x=='0'"}], "mark": {"type": "text", "align": "left", "baseline": "middle", "dx": 2, "dy": -4.7, "fontSize": 8.7, "color": "#1f77b4"}, "encoding": {"text": {"field": "v", "type": "quantitative", "format": ".2f"}}},
        {"transform": [{"filter": "datum.s=='CosyVoice2'&&datum.x=='Original'"}], "mark": {"type": "text", "align": "right", "baseline": "middle", "dx": -2, "dy": 1.2, "fontSize": 8.7, "color": "#ff7f0e"}, "encoding": {"text": {"field": "v", "type": "quantitative", "format": ".2f"}}},
        {"transform": [{"filter": "datum.s=='CosyVoice2'&&indexof(['15','10','5'],datum.x)>=0"}], "mark": {"type": "text", "align": "right", "baseline": "middle", "dx": -1, "dy": 4, "fontSize": 8.7, "color": "#ff7f0e"}, "encoding": {"text": {"field": "v", "type": "quantitative", "format": ".2f"}}},
        {"transform": [{"filter": "datum.s=='CosyVoice2'&&datum.x=='0'"}], "mark": {"type": "text", "align": "left", "baseline": "middle", "dx": 2, "dy": 4.8, "fontSize": 8.7, "color": "#ff7f0e"}, "encoding": {"text": {"field": "v", "type": "quantitative", "format": ".2f"}}},
        {"transform": [{"filter": "datum.s=='GLM-4-Voice-Tokenizer'&&datum.x=='Original'"}], "mark": {"type": "text", "align": "right", "baseline": "middle", "dx": -2, "dy": 3.5, "fontSize": 8.7, "color": "#2ca02c"}, "encoding": {"text": {"field": "v", "type": "quantitative", "format": ".2f"}}},
        {"transform": [{"filter": "datum.s=='GLM-4-Voice-Tokenizer'&&indexof(['15','5'],datum.x)>=0"}], "mark": {"type": "text", "align": "left", "baseline": "middle", "dx": 1.5, "dy": -4.5, "fontSize": 8.7, "color": "#2ca02c"}, "encoding": {"text": {"field": "v", "type": "quantitative", "format": ".2f"}}},
        {"transform": [{"filter": "datum.s=='GLM-4-Voice-Tokenizer'&&datum.x=='10'"}], "mark": {"type": "text", "align": "left", "baseline": "middle", "dx": 1.5, "dy": -10, "fontSize": 8.7, "color": "#2ca02c"}, "encoding": {"text": {"field": "v", "type": "quantitative", "format": ".2f"}}},
        {"transform": [{"filter": "datum.s=='GLM-4-Voice-Tokenizer'&&datum.x=='0'"}], "mark": {"type": "text", "align": "left", "baseline": "middle", "dx": 2, "dy": 0, "fontSize": 8.7, "color": "#2ca02c"}, "encoding": {"text": {"field": "v", "type": "quantitative", "format": ".2f"}}},
        {"transform": [{"filter": "datum.s=='StableToken (ours)'&&datum.x=='Original'"}], "mark": {"type": "text", "align": "right", "baseline": "middle", "dx": -2, "dy": -4.7, "fontSize": 8.7, "color": "#d62728"}, "encoding": {"text": {"field": "v", "type": "quantitative", "format": ".2f"}}},
        {"transform": [{"filter": "datum.s=='StableToken (ours)'&&indexof(['15','10','5'],datum.x)>=0"}], "mark": {"type": "text", "align": "left", "baseline": "middle", "dx": 1.5, "dy": -5, "fontSize": 8.7, "color": "#d62728"}, "encoding": {"text": {"field": "v", "type": "quantitative", "format": ".2f"}}},
        {"transform": [{"filter": "datum.s=='StableToken (ours)'&&datum.x=='0'"}], "mark": {"type": "text", "align": "left", "baseline": "middle", "dx": 2, "dy": 0, "fontSize": 8.7, "color": "#d62728"}, "encoding": {"text": {"field": "v", "type": "quantitative", "format": ".2f"}}}
      ]
    },
    {
      "width": 296, "height": 172,
      "title": {"text": "SER Accuracy vs. SNR: Real (OOD) Noise", "fontSize": 12.4, "offset": 1.5},
      "data": {"name": "d"},
      "transform": [{"filter": "datum.p == 6"}],
      "encoding": {
        "x": {"field": "x", "type": "ordinal", "sort": ["Original","15","10","5","0"], "scale": {"type": "point", "padding": 0.62}, "axis": {"title": "SNR (dB)", "titleFontSize": 11}},
        "y": {"field": "v", "type": "quantitative", "scale": {"domain": [40, 92.76], "nice": false, "zero": false}, "axis": {"title": "Accuracy (%)", "values": [40,50,60,70,80,90], "titleFontSize": 11, "titlePadding": 3}}
      },
      "layer": [
        {"mark": {"type": "line", "strokeWidth": 1.2}, "encoding": {
          "color": {"field": "s", "type": "nominal", "title": null, "scale": {"domain": ["CosyVoice","CosyVoice2","GLM-4-Voice-Tokenizer","StableToken (ours)"], "range": ["#1f77b4","#ff7f0e","#2ca02c","#d62728"]}, "legend": {"orient": "none", "legendX": 3.5, "legendY": 114, "labelFontSize": 8.5, "rowPadding": 0.9, "padding": 3.5, "labelOffset": 16}},
          "strokeDash": {"field": "s", "type": "nominal", "title": null, "scale": {"domain": ["CosyVoice","CosyVoice2","GLM-4-Voice-Tokenizer","StableToken (ours)"], "range": [[4.4,1.9],[7.7,1.9,1.2,1.9],[1.2,2],[1,0]]}, "legend": {"orient": "none", "legendX": 3.5, "legendY": 114, "labelFontSize": 8.5, "rowPadding": 0.9, "padding": 3.5, "labelOffset": 16}}}},
        {"transform": [{"filter": "datum.s=='CosyVoice'"}], "mark": {"type": "point", "filled": true, "size": 12, "opacity": 1, "color": "#1f77b4"}},
        {"transform": [{"filter": "datum.s=='CosyVoice2'"}], "mark": {"type": "point", "filled": true, "size": 12, "opacity": 1, "color": "#ff7f0e"}},
        {"transform": [{"filter": "datum.s=='GLM-4-Voice-Tokenizer'"}], "mark": {"type": "point", "filled": true, "size": 9, "opacity": 1, "shape": "square", "color": "#2ca02c"}},
        {"transform": [{"filter": "datum.s=='StableToken (ours)'"}], "mark": {"type": "point", "filled": true, "size": 12, "opacity": 1, "color": "#d62728"}},
        {"transform": [{"filter": "datum.s=='CosyVoice'&&datum.x=='Original'"}], "mark": {"type": "text", "align": "right", "baseline": "middle", "dx": -2, "dy": 3.8, "fontSize": 8.7, "color": "#1f77b4"}, "encoding": {"text": {"field": "v", "type": "quantitative", "format": ".2f"}}},
        {"transform": [{"filter": "datum.s=='CosyVoice'&&indexof(['15','10','5'],datum.x)>=0"}], "mark": {"type": "text", "align": "right", "baseline": "middle", "dx": 0, "dy": 3.5, "fontSize": 8.7, "color": "#1f77b4"}, "encoding": {"text": {"field": "v", "type": "quantitative", "format": ".2f"}}},
        {"transform": [{"filter": "datum.s=='CosyVoice'&&datum.x=='0'"}], "mark": {"type": "text", "align": "left", "baseline": "middle", "dx": 2, "dy": -4, "fontSize": 8.7, "color": "#1f77b4"}, "encoding": {"text": {"field": "v", "type": "quantitative", "format": ".2f"}}},
        {"transform": [{"filter": "datum.s=='CosyVoice2'&&datum.x=='Original'"}], "mark": {"type": "text", "align": "right", "baseline": "middle", "dx": -2, "dy": 0, "fontSize": 8.7, "color": "#ff7f0e"}, "encoding": {"text": {"field": "v", "type": "quantitative", "format": ".2f"}}},
        {"transform": [{"filter": "datum.s=='CosyVoice2'&&indexof(['15','10','5'],datum.x)>=0"}], "mark": {"type": "text", "align": "right", "baseline": "middle", "dx": -1, "dy": 3.3, "fontSize": 8.7, "color": "#ff7f0e"}, "encoding": {"text": {"field": "v", "type": "quantitative", "format": ".2f"}}},
        {"transform": [{"filter": "datum.s=='CosyVoice2'&&datum.x=='0'"}], "mark": {"type": "text", "align": "left", "baseline": "middle", "dx": 2, "dy": 4, "fontSize": 8.7, "color": "#ff7f0e"}, "encoding": {"text": {"field": "v", "type": "quantitative", "format": ".2f"}}},
        {"transform": [{"filter": "datum.s=='GLM-4-Voice-Tokenizer'&&datum.x=='Original'"}], "mark": {"type": "text", "align": "right", "baseline": "middle", "dx": -2, "dy": 4.5, "fontSize": 8.7, "color": "#2ca02c"}, "encoding": {"text": {"field": "v", "type": "quantitative", "format": ".2f"}}},
        {"transform": [{"filter": "datum.s=='GLM-4-Voice-Tokenizer'&&indexof(['15','10','5'],datum.x)>=0"}], "mark": {"type": "text", "align": "left", "baseline": "middle", "dx": 1, "dy": -5, "fontSize": 8.7, "color": "#2ca02c"}, "encoding": {"text": {"field": "v", "type": "quantitative", "format": ".2f"}}},
        {"transform": [{"filter": "datum.s=='GLM-4-Voice-Tokenizer'&&datum.x=='0'"}], "mark": {"type": "text", "align": "left", "baseline": "middle", "dx": 2, "dy": 0, "fontSize": 8.7, "color": "#2ca02c"}, "encoding": {"text": {"field": "v", "type": "quantitative", "format": ".2f"}}},
        {"transform": [{"filter": "datum.s=='StableToken (ours)'&&datum.x=='Original'"}], "mark": {"type": "text", "align": "right", "baseline": "middle", "dx": -2, "dy": -5.3, "fontSize": 8.7, "color": "#d62728"}, "encoding": {"text": {"field": "v", "type": "quantitative", "format": ".2f"}}},
        {"transform": [{"filter": "datum.s=='StableToken (ours)'&&indexof(['15','10','5'],datum.x)>=0"}], "mark": {"type": "text", "align": "left", "baseline": "middle", "dx": 1, "dy": -5, "fontSize": 8.7, "color": "#d62728"}, "encoding": {"text": {"field": "v", "type": "quantitative", "format": ".2f"}}},
        {"transform": [{"filter": "datum.s=='StableToken (ours)'&&datum.x=='0'"}], "mark": {"type": "text", "align": "left", "baseline": "middle", "dx": 2, "dy": 0, "fontSize": 8.7, "color": "#d62728"}, "encoding": {"text": {"field": "v", "type": "quantitative", "format": ".2f"}}}
      ]
    }
  ]
}
